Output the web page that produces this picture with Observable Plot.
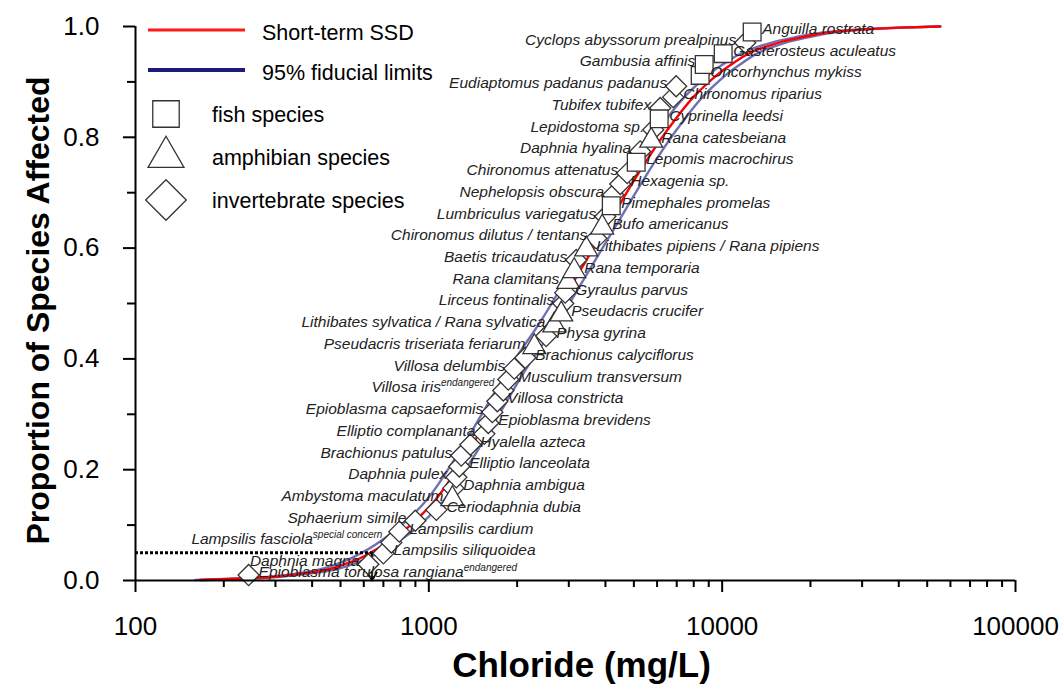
<!DOCTYPE html>
<html><head><meta charset="utf-8">
<script src="https://cdn.jsdelivr.net/npm/d3@7"></script>
<script src="https://cdn.jsdelivr.net/npm/@observablehq/plot@0.6"></script>
<style>
body{margin:0;background:#fff;}
#chart{width:1064px;height:688px;}
</style></head><body><div id="chart"></div>
<script>
// ---- data ----
const species = [
  "Epioblasma torulosa rangiana","Daphnia magna","Lampsilis siliquoidea","Lampsilis fasciola",
  "Lampsilis cardium","Sphaerium simile","Ceriodaphnia dubia","Ambystoma maculatum",
  "Daphnia ambigua","Daphnia pulex","Elliptio lanceolata","Brachionus patulus",
  "Hyalella azteca","Elliptio complananta","Epioblasma brevidens","Epioblasma capsaeformis",
  "Villosa constricta","Villosa iris","Musculium transversum","Villosa delumbis",
  "Brachionus calyciflorus","Pseudacris triseriata feriarum","Physa gyrina","Lithibates sylvatica / Rana sylvatica",
  "Pseudacris crucifer","Lirceus fontinalis","Gyraulus parvus","Rana clamitans",
  "Rana temporaria","Baetis tricaudatus","Lithibates pipiens / Rana pipiens","Chironomus dilutus / tentans",
  "Bufo americanus","Lumbriculus variegatus","Pimephales promelas","Nephelopsis obscura",
  "Hexagenia sp.","Chironomus attenatus","Lepomis macrochirus","Daphnia hyalina",
  "Rana catesbeiana","Lepidostoma sp.","Cyprinella leedsi","Tubifex tubifex",
  "Chironomus riparius","Eudiaptomus padanus padanus","Oncorhynchus mykiss","Gambusia affinis",
  "Gasterosteus aculeatus","Cyclops abyssorum prealpinus","Anguilla rostrata"
];
const status = [
  "endangered","","","special concern","","","","","","","","","","","","",
  "","endangered","","","","","","","","","","","","","","","","","","",
  "","","","","","","","","","","","","","",""
];
const group = [
  "invertebrate","invertebrate","invertebrate","invertebrate","invertebrate","invertebrate","invertebrate","amphibian",
  "invertebrate","invertebrate","invertebrate","invertebrate","invertebrate","invertebrate","invertebrate","invertebrate",
  "invertebrate","invertebrate","invertebrate","invertebrate","invertebrate","amphibian","invertebrate","amphibian",
  "amphibian","invertebrate","invertebrate","amphibian","amphibian","invertebrate","amphibian","invertebrate",
  "amphibian","invertebrate","fish","invertebrate","invertebrate","invertebrate","fish","invertebrate",
  "amphibian","invertebrate","fish","invertebrate","invertebrate","invertebrate","fish","fish",
  "fish","invertebrate","fish"
];
const chloride = [
  243,622,700,745,793,899,1061,1203,1212,1241,1270,1290,1385,1546,1595,1646,
  1712,1794,1866,1956,2132,2289,2513,2677,2828,2872,2917,2988,3131,3181,3441,3722,
  3900,3994,4187,4253,4494,4746,5093,5254,5730,5821,6100,6150,6808,6968,8414,8685,
  10080,11977,12656
];
const proportion = [
  0.0098,0.0294,0.0490,0.0686,0.0882,0.1078,0.1275,0.1471,0.1667,0.1863,0.2059,0.2255,0.2451,0.2647,0.2843,0.3039,
  0.3235,0.3431,0.3627,0.3824,0.4020,0.4216,0.4412,0.4608,0.4804,0.5000,0.5196,0.5392,0.5588,0.5784,0.5980,0.6176,
  0.6373,0.6569,0.6765,0.6961,0.7157,0.7353,0.7549,0.7745,0.7941,0.8137,0.8333,0.8529,0.8725,0.8922,0.9118,0.9314,
  0.9510,0.9706,0.9902
];
const labelSide = [
  "right","left","right","left","right","left","right","left","right","left","right","left","right","left","right","left",
  "right","left","right","left","right","left","right","left","right","left","right","left","right","left","right","left",
  "right","left","right","left","right","left","right","left","right","left","right","left","right","left","right","left",
  "right","left","right"
];
// fitted short-term SSD and its 95% fiducial limits
const curveP =    [0.001,0.004,0.012,0.033,0.05,0.085,0.135,0.21,0.30,0.39,0.47,0.56,0.65,0.74,0.82,0.885,0.93,0.96,0.98,0.993,0.998,1.0];
const ssdX =      [166,246,365,540,632,800,1012,1280,1620,2050,2594,3283,4154,5254,6650,8414,10650,13475,18446,27300,40420,55330];
const lowerX =    [160,235,345,505,590,745,945,1195,1515,1915,2420,3060,3870,4890,6190,7840,9950,12700,17500,26200,39500,55000];
const upperX =    [172,258,385,575,675,860,1085,1370,1735,2195,2780,3520,4455,5640,7140,9030,11400,14300,19400,28400,41300,55600];
const hc5 = 640, hc5P = 0.05;
const xTicks = [100,1000,10000,100000];
const xMinorTicks = [200,300,400,500,600,700,800,900,2000,3000,4000,5000,6000,7000,8000,9000,20000,30000,40000,50000,60000,70000,80000,90000];
const yTicks = [0,0.2,0.4,0.6,0.8,1.0];
const yMinorTicks = [0.1,0.3,0.5,0.7,0.9];
const xLabel = "Chloride (mg/L)";
const yLabel = "Proportion of Species Affected";
const legendLines = [["Short-term SSD","#ff1a1a"],["95% fiducial limits","#1c1c78"]];
const legendSymbols = [["fish species","square"],["amphibian species","triangle"],["invertebrate species","diamond"]];

// ---- build tables ----
const pts = species.map((s,i)=>({name:s, status:status[i], group:group[i], x:chloride[i], p:proportion[i], side:labelSide[i]}));
const ssd = ssdX.map((x,i)=>({x, p:curveP[i]}));
const lower = lowerX.map((x,i)=>({x, p:curveP[i]}));
const upper = upperX.map((x,i)=>({x, p:curveP[i]}));

const blue = "#5457a6";
const symStroke = "#333";
const plot = Plot.plot({
  width:1064, height:688,
  marginLeft:135, marginRight:49, marginTop:26, marginBottom:108,
  style:{fontFamily:"'Liberation Sans', Arial, sans-serif", fontSize:"26px", background:"#fff", color:"#000"},
  x:{type:"log", domain:[100,100000]},
  y:{domain:[0,1]},
  marks:[
    Plot.line(lower,{x:"x",y:"p",stroke:blue,strokeWidth:2.4,strokeOpacity:0.85,curve:"monotone-y"}),
    Plot.line(upper,{x:"x",y:"p",stroke:blue,strokeWidth:2.4,strokeOpacity:0.85,curve:"monotone-y"}),
    Plot.line(ssd,{x:"x",y:"p",stroke:"#ff0000",strokeWidth:2.4,curve:"monotone-y"}),
    Plot.ruleY([hc5P],{x1:100,x2:hc5,stroke:"#000",strokeWidth:3,strokeDasharray:"3,2"}),
    Plot.arrow([{x:hc5,y1:hc5P,y2:0}],{x1:"x",x2:"x",y1:"y1",y2:"y2",stroke:"#000",strokeWidth:2,strokeDasharray:"2.5,2",headLength:8}),
    Plot.dot(pts.filter(d=>d.group==="invertebrate"),{x:"x",y:"p",symbol:"diamond2",r:9.5,fill:"#fff",stroke:symStroke,strokeWidth:1.3}),
    Plot.dot(pts.filter(d=>d.group==="amphibian"),{x:"x",y:"p",symbol:"triangle",r:8.5,fill:"#fff",stroke:symStroke,strokeWidth:1.3}),
    Plot.dot(pts.filter(d=>d.group==="fish"),{x:"x",y:"p",symbol:"square",r:10,fill:"#fff",stroke:symStroke,strokeWidth:1.3}),
    Plot.text(pts.filter(d=>d.side==="left"),{x:"x",y:"p",text:"name",textAnchor:"end",dx:-9,dy:-3,fontSize:15.5,fontStyle:"italic",fill:"#222"}),
    Plot.text(pts.filter(d=>d.side==="right"),{x:"x",y:"p",text:"name",textAnchor:"start",dx:10,dy:-3,fontSize:15.5,fontStyle:"italic",fill:"#222"}),
    Plot.ruleX([100],{y1:0,y2:1,stroke:"#000",strokeWidth:2}),
    Plot.ruleY([0],{x1:100,x2:100000,stroke:"#000",strokeWidth:2}),
    Plot.axisX({ticks:xTicks,tickSize:12,tickPadding:24,tickFormat:d=>String(d),strokeWidth:2,label:null,fontSize:26}),
    Plot.axisX({ticks:xMinorTicks,tickSize:7,tickFormat:()=>"",strokeWidth:2,label:null}),
    Plot.axisY({ticks:yTicks,tickSize:12,tickPadding:24,tickFormat:d3.format(".1f"),strokeWidth:2,label:null,fontSize:26}),
    Plot.axisY({ticks:yMinorTicks,tickSize:8,tickFormat:()=>"",strokeWidth:2,label:null}),
    Plot.text([xLabel],{frameAnchor:"bottom",dx:6,dy:96,fontSize:35,fontWeight:"bold",fill:"#000"}),
    Plot.text([yLabel],{frameAnchor:"left",textAnchor:"middle",dx:-97,dy:7,rotate:-90,fontSize:32,fontWeight:"bold",fill:"#000"})
  ]
});
document.getElementById("chart").appendChild(plot);

// superscripts (conservation status)
const statusByName = new Map(pts.filter(d=>d.status).map(d=>[d.name,d.status]));
d3.select(plot).selectAll("text").each(function(){
  const s = statusByName.get(this.textContent);
  if (s) d3.select(this).append("tspan").attr("dy","-0.6em").attr("font-size","10px").text(s);
});

// legend
const svg = d3.select(plot);
const lg = svg.append("g").attr("font-family","'Liberation Sans', Arial, sans-serif").attr("font-size","21.5px").attr("text-anchor","start");
legendLines.forEach(([t,c],i)=>{
  const y = 30 + i*40;
  lg.append("line").attr("x1",148).attr("x2",245).attr("y1",y).attr("y2",y).attr("stroke",c).attr("stroke-width",i===0?3:4);
  lg.append("text").attr("x",262).attr("y",y+2).attr("dy","0.35em").attr("text-anchor","start").text(t);
});
const symTypes = {square:d3.symbolSquare, triangle:d3.symbolTriangle, diamond:d3.symbolDiamond2};
const symSizes = {square:700, triangle:560, diamond:1050};
legendSymbols.forEach(([t,s],i)=>{
  const y = 114 + i*43;
  lg.append("path").attr("transform",`translate(166,${y})`).attr("d",d3.symbol(symTypes[s],symSizes[s])())
    .attr("fill","#fff").attr("stroke",symStroke).attr("stroke-width",1.3);
  lg.append("text").attr("x",212).attr("y",y).attr("dy","0.35em").attr("text-anchor","start").text(t);
});
</script></body></html>
